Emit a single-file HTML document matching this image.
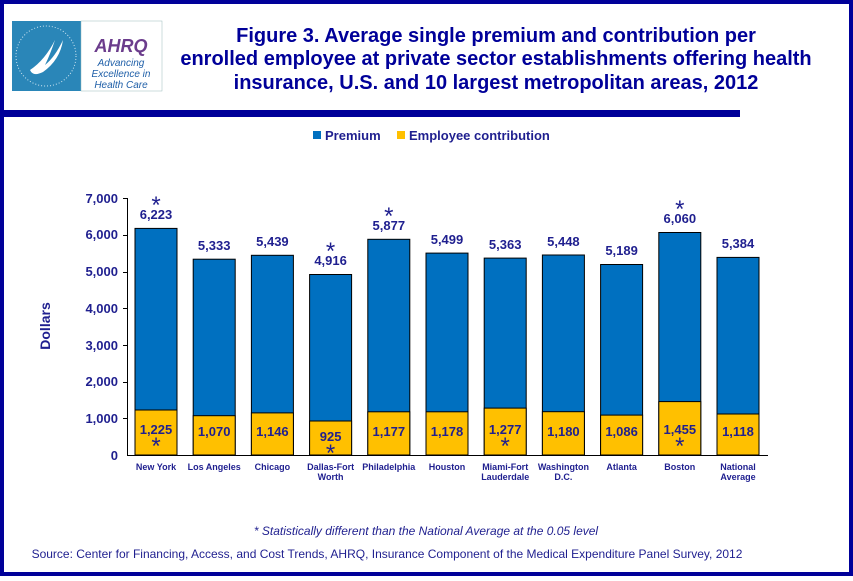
<!DOCTYPE html>
<html><head><style>
body{margin:0;width:853px;height:576px;overflow:hidden;background:#fff;font-family:"Liberation Sans",Arial,sans-serif}
</style></head><body>
<svg width="853" height="576" xmlns="http://www.w3.org/2000/svg" font-family="Liberation Sans, Arial, sans-serif">
<rect x="0" y="0" width="853" height="576" fill="#fff"/>
<rect x="2" y="2" width="849" height="572" fill="none" stroke="#000099" stroke-width="4"/>
<rect x="0" y="110" width="740" height="7" fill="#000099"/>
<rect x="12" y="21" width="69" height="70" fill="#2A86B8"/>
<path d="M30 70 q15 -10 25 -30 q-5 15 -10 25 q10 -8 18 -25 q-3 20 -20 32 q-10 5 -13 -2z" fill="#fff"/>
<circle cx="46" cy="56" r="30" fill="none" stroke="#cfe6f2" stroke-width="1" stroke-dasharray="1 2"/>
<rect x="81" y="21" width="81" height="70" fill="#fff" stroke="#9bb" stroke-width="0.5"/>
<text x="121" y="52" font-size="18" font-weight="bold" font-style="italic" fill="#6B3C8C" text-anchor="middle">AHRQ</text>
<text x="121" y="66" font-size="10" font-style="italic" fill="#1F5FA8" text-anchor="middle">Advancing</text>
<text x="121" y="77" font-size="10" font-style="italic" fill="#1F5FA8" text-anchor="middle">Excellence in</text>
<text x="121" y="88" font-size="10" font-style="italic" fill="#1F5FA8" text-anchor="middle">Health Care</text>
<g font-size="20" font-weight="bold" fill="#000099" text-anchor="middle">
<text x="496" y="42">Figure 3. Average single premium and contribution per</text>
<text x="496" y="65">enrolled employee at private sector establishments offering health</text>
<text x="496" y="89">insurance, U.S. and 10 largest metropolitan areas, 2012</text>
</g>
<rect x="313" y="131" width="8" height="8" fill="#0070C0"/>
<text x="325" y="140" font-size="13" font-weight="bold" fill="#1F1F8F">Premium</text>
<rect x="397" y="131" width="8" height="8" fill="#FFC000"/>
<text x="409" y="140" font-size="13" font-weight="bold" fill="#1F1F8F">Employee contribution</text>
<text x="50" y="326" font-size="14" font-weight="bold" fill="#1F1F8F" text-anchor="middle" transform="rotate(-90 50 326)">Dollars</text>
<g font-size="13" font-weight="bold" fill="#1F1F8F" text-anchor="end">
<text x="118" y="460">0</text><text x="118" y="423">1,000</text><text x="118" y="386">2,000</text><text x="118" y="350">3,000</text><text x="118" y="313">4,000</text><text x="118" y="276">5,000</text><text x="118" y="239">6,000</text><text x="118" y="203">7,000</text>
</g>
<g fill="#0070C0" stroke="#000" stroke-width="1">
<rect x="135" y="228.4" width="42" height="226.6"/>
<rect x="193.2" y="259.2" width="42" height="195.8"/>
<rect x="251.4" y="255.3" width="42" height="199.7"/>
<rect x="309.6" y="274.5" width="42" height="180.5"/>
<rect x="367.8" y="239.3" width="42" height="215.7"/>
<rect x="426" y="253.1" width="42" height="201.9"/>
<rect x="484.2" y="258.1" width="42" height="196.9"/>
<rect x="542.4" y="255" width="42" height="200"/>
<rect x="600.6" y="264.5" width="42" height="190.5"/>
<rect x="658.8" y="232.5" width="42" height="222.5"/>
<rect x="717" y="257.4" width="42" height="197.6"/>
</g>
<g fill="#FFC000" stroke="#000" stroke-width="1">
<rect x="135" y="410" width="42" height="45"/>
<rect x="193.2" y="415.7" width="42" height="39.3"/>
<rect x="251.4" y="412.9" width="42" height="42.1"/>
<rect x="309.6" y="421" width="42" height="34"/>
<rect x="367.8" y="411.8" width="42" height="43.2"/>
<rect x="426" y="411.8" width="42" height="43.2"/>
<rect x="484.2" y="408.1" width="42" height="46.9"/>
<rect x="542.4" y="411.7" width="42" height="43.3"/>
<rect x="600.6" y="415.1" width="42" height="39.9"/>
<rect x="658.8" y="401.6" width="42" height="53.4"/>
<rect x="717" y="414" width="42" height="41"/>
</g>
<g stroke="#000" stroke-width="1">
<line x1="127.5" y1="198" x2="127.5" y2="455"/>
<line x1="127" y1="455.5" x2="768" y2="455.5"/>
<line x1="123" y1="198.5" x2="127" y2="198.5"/><line x1="123" y1="235.5" x2="127" y2="235.5"/><line x1="123" y1="272.5" x2="127" y2="272.5"/><line x1="123" y1="308.5" x2="127" y2="308.5"/><line x1="123" y1="345.5" x2="127" y2="345.5"/><line x1="123" y1="382.5" x2="127" y2="382.5"/><line x1="123" y1="418.5" x2="127" y2="418.5"/>
</g>
<g font-size="13" font-weight="bold" fill="#1F1F8F" text-anchor="middle">
<text x="156" y="219">6,223</text>
<text x="214.2" y="250">5,333</text>
<text x="272.4" y="246">5,439</text>
<text x="330.6" y="265">4,916</text>
<text x="388.8" y="230">5,877</text>
<text x="447" y="244">5,499</text>
<text x="505.2" y="249">5,363</text>
<text x="563.4" y="246">5,448</text>
<text x="621.6" y="255">5,189</text>
<text x="679.8" y="223">6,060</text>
<text x="738" y="248">5,384</text>
<text x="156" y="434">1,225</text>
<text x="214.2" y="436">1,070</text>
<text x="272.4" y="436">1,146</text>
<text x="330.6" y="441">925</text>
<text x="388.8" y="436">1,177</text>
<text x="447" y="436">1,178</text>
<text x="505.2" y="434">1,277</text>
<text x="563.4" y="436">1,180</text>
<text x="621.6" y="436">1,086</text>
<text x="679.8" y="434">1,455</text>
<text x="738" y="436">1,118</text>
</g>
<g font-size="24" fill="#1F1F8F" text-anchor="middle">
<text x="156" y="213">*</text>
<text x="330.6" y="259">*</text>
<text x="388.8" y="224">*</text>
<text x="679.8" y="217">*</text>
<text x="156" y="454">*</text>
<text x="330.6" y="461">*</text>
<text x="505.2" y="454">*</text>
<text x="679.8" y="454">*</text>
</g>
<g font-size="9" font-weight="bold" fill="#1F1F8F" text-anchor="middle">
<text x="156" y="470">New York</text>
<text x="214.2" y="470">Los Angeles</text>
<text x="272.4" y="470">Chicago</text>
<text x="330.6" y="470">Dallas-Fort</text><text x="330.6" y="480">Worth</text>
<text x="388.8" y="470">Philadelphia</text>
<text x="447" y="470">Houston</text>
<text x="505.2" y="470">Miami-Fort</text><text x="505.2" y="480">Lauderdale</text>
<text x="563.4" y="470">Washington</text><text x="563.4" y="480">D.C.</text>
<text x="621.6" y="470">Atlanta</text>
<text x="679.8" y="470">Boston</text>
<text x="738" y="470">National</text><text x="738" y="480">Average</text>
</g>
<text x="426" y="535" font-size="12" font-style="italic" fill="#1F1F8F" text-anchor="middle">* Statistically different than the National Average at the 0.05 level</text>
<text x="387" y="558" font-size="12" fill="#1F1F8F" text-anchor="middle">Source: Center for Financing, Access, and Cost Trends, AHRQ, Insurance Component of the Medical Expenditure Panel Survey, 2012</text>
</svg>
</body></html>
